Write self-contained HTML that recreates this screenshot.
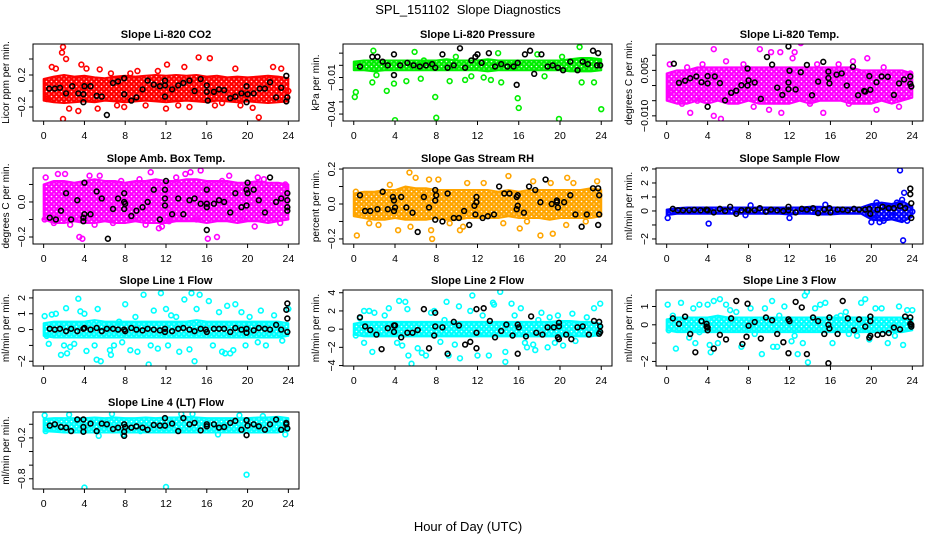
<!DOCTYPE html>
<html><head><meta charset="utf-8">
<style>
html,body{margin:0;padding:0;background:#fff;}
svg{display:block;font-family:"Liberation Sans",Arial,sans-serif;}
</style></head>
<body>
<svg id="chart" width="936" height="540" viewBox="0 0 936 540">
<defs id="defs"></defs>
<text x="468" y="14" text-anchor="middle" font-size="13" xml:space="preserve">SPL_151102&#160; Slope Diagnostics</text>
<text x="468" y="531" text-anchor="middle" font-size="13">Hour of Day (UTC)</text>
</svg>
<script>
const xTicks = [0,4,8,12,16,20,24];
const bandHours = [0,1,2,3,4,5,6,7,8,9,10,11,12,13,14,15,16,17,18,19,20,21,22,23,24];

// Panel 1 CO2
const co2Lo = [-0.12,-0.14,-0.15,-0.14,-0.13,-0.14,-0.12,-0.13,-0.14,-0.13,-0.12,-0.13,-0.14,-0.13,-0.12,-0.13,-0.14,-0.12,-0.13,-0.14,-0.13,-0.14,-0.15,-0.14,-0.13];
const co2Hi = [0.15,0.18,0.2,0.18,0.19,0.17,0.16,0.18,0.19,0.18,0.19,0.2,0.19,0.2,0.19,0.2,0.18,0.19,0.17,0.18,0.17,0.18,0.19,0.18,0.16];
const co2Pts = [[1.9,0.55],[1.8,0.48],[2.2,0.4],[0.8,0.3],[1.2,0.28],[3.7,0.33],[4.2,0.28],[2.5,-0.22],[3.4,-0.25],[1.9,-0.35],[5.3,-0.22],[12.0,-0.22],[12.1,0.33],[15.2,0.42],[16.3,0.41],[21.1,-0.33],[20.5,-0.21],[22.5,0.3],[23.3,0.28],[14.3,-0.2],[13.2,-0.18],[7.9,-0.2],[10.0,-0.18],[17.5,-0.15],[19.3,-0.18],[18.8,0.28],[9.2,0.25],[5.5,0.27],[6.6,0.22],[11.2,0.25],[0.3,-0.1],[24,0.0],[8.5,0.22],[16.8,-0.18],[13.8,0.3],[7.2,-0.18]];
const co2Black = [[0.55,0.03],[1.1,0.03],[1.6,0.04],[2.2,-0.03],[2.8,0.06],[3.4,-0.03],[4.0,0.06],[3.9,-0.04],[3.9,-0.14],[4.6,0.06],[5.2,-0.06],[5.7,-0.07],[6.2,-0.3],[6.8,0.1],[7.3,0.12],[7.9,0.16],[7.9,-0.04],[8.6,-0.12],[9.1,-0.08],[9.7,0.02],[10.2,0.13],[10.8,0.08],[11.4,0.06],[11.9,0.07],[11.9,0.13],[11.9,-0.07],[12.6,0.02],[13.2,0.07],[13.7,0.1],[14.3,0.13],[14.8,0.0],[15.4,0.15],[16,0.07],[16,-0.01],[16.1,-0.12],[16.7,-0.01],[17.2,0.02],[17.7,0.01],[18.3,-0.09],[18.8,-0.07],[19.4,-0.03],[19.9,0.06],[19.9,-0.14],[20.0,-0.04],[20.6,-0.03],[21.2,0.03],[21.7,0.03],[22.2,0.11],[22.8,-0.08],[23.3,0.04],[23.8,0.19],[23.9,-0.08],[23.8,-0.13]];

// Panel 2 Pressure
const presLo = [-0.004,-0.004,-0.005,-0.004,-0.004,-0.004,-0.004,-0.004,-0.004,-0.004,-0.004,-0.004,-0.004,-0.005,-0.004,-0.004,-0.004,-0.004,-0.004,-0.004,-0.004,-0.005,-0.005,-0.005,-0.004];
const presHi = [0.003,0.004,0.004,0.004,0.004,0.004,0.004,0.004,0.004,0.005,0.004,0.004,0.004,0.005,0.004,0.004,0.004,0.004,0.004,0.004,0.004,0.005,0.006,0.006,0.005];
const presPts = [[0.1,-0.026],[0.2,-0.022],[1.9,0.012],[1.8,-0.014],[3.2,-0.021],[3.9,-0.015],[4.0,-0.045],[5.1,-0.013],[5.9,0.011],[6.5,-0.011],[7.9,-0.026],[8.0,-0.043],[9.3,-0.013],[9.9,0.007],[10.8,-0.012],[12.0,-0.049],[13.3,-0.012],[14.0,0.010],[14.3,-0.014],[15.9,-0.027],[16.0,-0.035],[17.8,0.009],[19.9,-0.044],[20.2,0.007],[21.9,0.015],[22.1,-0.014],[23.3,-0.014],[24.0,-0.036],[2.2,-0.008],[11.4,-0.009],[18.5,-0.009],[6.8,0.004],[12.6,-0.01]];
const presBlack = [[0.6,-0.001],[1.8,0.007],[2.3,0.007],[2.8,0.003],[3.3,0.0],[3.9,0.009],[3.9,-0.008],[4.5,0.0],[5.2,0.002],[5.8,0.0],[6.4,-0.001],[7.0,0.0],[7.6,0.001],[7.9,-0.002],[8.6,0.009],[9.1,-0.002],[9.7,0.0],[10.3,0.014],[10.8,-0.002],[11.4,0.004],[11.8,0.007],[12.0,0.009],[12.4,0.002],[13.1,0.01],[13.7,-0.001],[14.3,0.001],[14.9,-0.001],[15.5,-0.001],[15.9,0.002],[15.8,-0.016],[16.6,0.009],[17.1,0.012],[17.5,-0.007],[18.2,0.009],[18.8,-0.001],[19.3,0.0],[19.8,-0.002],[20.3,-0.004],[21.0,0.003],[21.7,-0.004],[22.2,0.003],[22.7,0.001],[23.2,0.012],[23.6,0.0],[23.7,0.010],[23.9,0.0]];

// Panel 3 Li-820 Temp
const tempLo = [-0.005,-0.006,-0.006,-0.005,-0.006,-0.005,-0.006,-0.006,-0.005,-0.006,-0.006,-0.006,-0.006,-0.005,-0.006,-0.005,-0.005,-0.005,-0.006,-0.006,-0.006,-0.005,-0.006,-0.005,-0.004];
const tempHi = [0.004,0.005,0.005,0.006,0.006,0.006,0.006,0.006,0.006,0.006,0.006,0.006,0.006,0.006,0.006,0.006,0.006,0.006,0.006,0.005,0.005,0.005,0.005,0.005,0.004];
const tempPts = [[0.3,-0.002],[0.3,0.007],[2.0,0.006],[2.3,-0.009],[3.5,0.007],[4.6,0.012],[4.6,-0.01],[5.3,-0.011],[6.5,-0.013],[9.1,0.012],[10.2,0.011],[11.1,0.011],[11.2,-0.009],[12.3,0.009],[12.4,-0.016],[12.5,0.011],[13.1,0.014],[14.7,0.007],[15.3,-0.009],[18.2,0.008],[19.6,0.009],[20.5,-0.008],[22.7,-0.007],[23.0,-0.004],[23.8,0.004],[5.8,0.008],[7.5,0.007],[16.8,0.007],[1.5,-0.006],[8.5,-0.007],[14.0,-0.006],[17.8,-0.006],[21.2,0.006],[10.0,-0.008],[3.0,-0.005]];
const tempBlack = [[0.7,0.0072],[1.2,0.0009],[1.8,0.0016],[2.3,0.0024],[2.9,0.003],[3.4,0.0011],[4.0,0.0031],[4.0,0.0007],[4.0,-0.007],[4.7,0.003],[5.2,0.0008],[5.7,-0.0049],[6.3,-0.0024],[6.8,-0.0017],[7.3,0.0001],[7.9,0.0056],[8.0,0.0017],[7.9,0.0],[8.6,0.001],[9.2,-0.0044],[9.8,0.0094],[10.3,0.0069],[10.8,-0.0007],[11.3,-0.0031],[11.9,0.001],[11.9,0.0129],[12.0,0.0049],[11.9,-0.0012],[12.6,-0.0013],[13.1,0.0044],[13.7,0.0068],[14.2,-0.0032],[14.8,0.0013],[15.3,0.0078],[15.8,0.0046],[15.8,0.0025],[15.9,0.0007],[16.6,0.0036],[17.1,0.004],[17.6,0.0],[18.2,0.0062],[18.7,-0.0032],[19.3,-0.0018],[19.8,0.0031],[19.9,-0.0014],[19.4,-0.002],[20.5,0.0011],[21.0,0.003],[21.6,0.0029],[22.2,-0.0031],[22.7,0.0007],[23.2,0.002],[23.8,0.003],[23.8,0.0006],[23.9,-0.0003]];

// Panel 4 Amb Box Temp
const ambLo = [-0.1,-0.12,-0.12,-0.11,-0.12,-0.12,-0.11,-0.12,-0.12,-0.11,-0.12,-0.12,-0.12,-0.11,-0.11,-0.11,-0.12,-0.11,-0.11,-0.12,-0.11,-0.11,-0.12,-0.11,-0.1];
const ambHi = [0.1,0.12,0.12,0.11,0.12,0.13,0.12,0.12,0.11,0.12,0.12,0.13,0.12,0.12,0.13,0.13,0.12,0.12,0.12,0.11,0.11,0.12,0.11,0.11,0.1];
const ambPts = [[0.2,0.14],[1.4,0.16],[2.1,0.16],[3.5,-0.2],[3.8,-0.21],[4.5,0.15],[5.5,0.15],[7.6,0.12],[7.9,-0.26],[10.0,-0.13],[10.5,0.17],[11.3,-0.15],[11.6,-0.14],[13.0,0.14],[13.9,0.16],[14.4,0.17],[15.4,0.18],[16.1,-0.21],[17.0,-0.2],[18.2,0.15],[20.7,-0.14],[21.0,0.14],[21.6,0.13],[23.2,-0.12],[22.6,-0.1],[0.1,-0.1],[1.0,-0.12],[6.8,-0.12],[8.6,-0.09],[12.3,-0.11],[19.5,-0.1],[9.4,0.13],[5.0,-0.13],[17.5,0.12],[2.6,-0.13],[15.0,-0.1],[23.7,0.1]];
const ambBlack = [[0.6,-0.09],[1.2,-0.1],[1.7,-0.05],[2.2,0.05],[2.7,-0.1],[3.3,0.01],[4.0,0.11],[4.0,-0.07],[3.9,-0.09],[3.9,-0.11],[4.6,-0.07],[5.2,0.06],[5.7,0.02],[6.3,-0.21],[6.8,-0.04],[7.3,0.02],[7.9,0.0],[7.9,0.05],[8.0,-0.01],[7.9,-0.04],[8.6,-0.08],[9.1,-0.05],[9.7,-0.03],[10.2,0.0],[10.8,0.07],[11.4,-0.1],[11.9,0.07],[12.0,0.12],[11.9,0.02],[11.9,-0.02],[12.6,-0.07],[13.2,0.02],[13.7,-0.07],[14.3,0.01],[14.8,0.02],[15.4,-0.01],[16.0,0.07],[16.0,-0.01],[16.0,-0.03],[16.0,-0.16],[16.7,-0.01],[17.2,0.01],[17.7,0.0],[18.3,-0.06],[18.8,0.05],[19.4,-0.03],[19.9,-0.02],[20.0,0.11],[20.0,0.05],[19.9,0.07],[20.6,0.07],[21.1,0.01],[21.7,-0.06],[22.2,0.14],[22.8,0.0],[23.3,0.02],[23.9,0.05],[23.9,0.01],[23.9,-0.03],[23.9,-0.05]];

// Panel 5 Gas Stream RH
const rhLo = [-0.07,-0.08,-0.09,-0.09,-0.08,-0.09,-0.09,-0.09,-0.08,-0.09,-0.09,-0.08,-0.08,-0.08,-0.08,-0.07,-0.08,-0.08,-0.08,-0.09,-0.08,-0.08,-0.08,-0.08,-0.07];
const rhHi = [0.06,0.07,0.07,0.08,0.08,0.1,0.09,0.09,0.08,0.08,0.08,0.08,0.08,0.08,0.07,0.08,0.07,0.08,0.08,0.08,0.08,0.08,0.08,0.09,0.08];
const rhPts = [[0.3,-0.18],[1.5,-0.11],[4.3,-0.15],[5.4,0.18],[5.5,-0.13],[7.6,-0.2],[7.5,-0.15],[9.3,-0.11],[10.3,-0.15],[10.6,-0.13],[15.0,0.16],[16.1,-0.14],[18.1,-0.18],[19.3,-0.17],[20.6,-0.12],[20.7,0.15],[21.3,0.12],[6.0,0.15],[7.3,0.14],[3.5,0.11],[12.6,0.12],[22.5,-0.1],[23.6,0.13],[0.2,0.07],[14.5,-0.11],[17.4,0.13],[2.4,-0.12],[11.0,0.12],[8.2,0.14],[16.8,-0.1],[19.1,0.12]];
const rhBlack = [[0.6,0.05],[1.1,-0.04],[1.6,-0.04],[2.3,-0.03],[2.8,0.07],[3.3,-0.03],[3.8,0.04],[3.9,0.02],[4.0,-0.02],[3.9,-0.04],[4.6,0.04],[5.1,-0.02],[5.7,-0.05],[6.2,-0.16],[6.8,0.04],[7.3,-0.02],[7.9,0.08],[8.0,0.05],[7.9,0.02],[7.9,-0.09],[8.6,-0.1],[9.1,0.06],[9.7,-0.08],[10.2,-0.08],[10.7,-0.04],[11.2,-0.12],[11.8,-0.06],[11.9,0.04],[11.9,0.01],[11.7,-0.01],[12.5,-0.08],[13.0,-0.07],[13.6,-0.06],[14.1,0.1],[14.6,0.06],[15.1,0.06],[15.8,0.04],[15.8,-0.03],[15.9,-0.01],[15.9,0.05],[16.5,-0.05],[17.0,0.1],[17.6,0.08],[18.1,0.01],[18.6,0.14],[19.2,0.0],[19.7,0.01],[19.8,-0.02],[19.7,0.02],[20.4,0.01],[21.0,0.05],[21.5,-0.06],[22.1,-0.13],[22.6,-0.06],[23.2,0.09],[23.7,0.09],[23.8,0.05],[23.8,-0.06],[23.7,-0.12]];

// Panel 6 Sample Flow
const sfLo = [-0.3,-0.2,-0.2,-0.2,-0.2,-0.2,-0.2,-0.2,-0.2,-0.2,-0.2,-0.2,-0.25,-0.2,-0.2,-0.25,-0.25,-0.2,-0.2,-0.2,-0.6,-0.7,-0.6,-0.8,-0.4];
const sfHi = [0.1,0.2,0.25,0.25,0.25,0.25,0.25,0.25,0.25,0.25,0.25,0.25,0.25,0.25,0.3,0.3,0.25,0.25,0.25,0.25,0.5,0.6,0.5,0.7,0.3];
const sfPts = [[0.1,-0.5],[4.1,-0.9],[12.0,-0.5],[8.2,0.4],[15.5,0.45],[20.0,-0.8],[20.3,-0.5],[20.5,0.6],[20.8,-0.8],[21.2,-0.7],[22.8,2.9],[23.0,0.8],[23.2,1.3],[23.1,-2.1],[22.0,-0.3],[24.0,-0.05],[22.5,0.6],[23.5,-0.7],[21.7,0.3],[19.8,-0.3],[7.7,-0.3]];
const sfBlack = [[0.6,0.15],[1.1,0.05],[1.6,0.05],[2.2,0.05],[2.7,0.08],[3.3,0.05],[3.9,0.1],[4.0,0.05],[4.6,-0.1],[5.2,0.15],[5.7,0.0],[6.2,0.3],[6.8,-0.2],[7.3,0.05],[7.9,0.08],[8.0,0.05],[8.6,0.05],[9.1,0.2],[9.7,-0.05],[10.2,0.1],[10.8,0.05],[11.4,0.0],[11.9,0.3],[11.9,0.05],[12.6,-0.1],[13.2,0.15],[13.7,0.1],[14.3,0.2],[14.8,-0.15],[15.4,0.1],[15.9,0.2],[16.0,-0.1],[16.7,0.1],[17.2,0.1],[17.7,0.05],[18.3,0.15],[18.8,0.1],[19.4,0.1],[19.9,-0.2],[19.8,0.15],[20.6,0.1],[21.1,0.3],[21.7,0.2],[22.2,0.2],[22.8,0.35],[23.3,0.2],[23.8,1.6],[23.8,1.2],[23.9,0.55],[23.9,-0.5]];

// Panel 7 Line 1 Flow
const l1Lo = [-0.4,-0.5,-0.5,-0.5,-0.5,-0.5,-0.5,-0.5,-0.5,-0.5,-0.5,-0.5,-0.5,-0.5,-0.5,-0.5,-0.5,-0.5,-0.5,-0.5,-0.5,-0.5,-0.5,-0.5,-0.4];
const l1Hi = [0.4,0.5,0.5,0.5,0.5,0.6,0.5,0.5,0.5,0.5,0.5,0.5,0.5,0.5,0.5,0.6,0.5,0.5,0.5,0.5,0.5,0.5,0.5,0.5,0.4];
const l1Pts = [[0.1,0.85],[0.3,-0.4],[0.8,0.95],[1.2,1.0],[1.7,-1.6],[2.0,-1.0],[2.2,1.35],[2.3,-1.5],[2.6,-1.1],[3.4,1.95],[3.6,1.15],[4.2,-1.35],[4.0,1.0],[5.2,-1.9],[5.6,-2.0],[5.3,1.3],[5.0,-1.0],[6.5,-1.3],[6.6,-1.6],[6.9,-1.0],[7.4,0.5],[7.7,-0.8],[8.0,1.6],[8.5,-1.3],[9.2,-1.4],[9.8,2.2],[10.3,-2.2],[10.5,-1.0],[11.2,-1.2],[11.5,2.3],[12.0,1.3],[12.2,-1.0],[12.5,0.9],[13.3,-1.4],[13.8,1.9],[14.3,-1.25],[14.5,2.3],[14.8,-2.0],[15.3,2.2],[15.0,1.3],[16.2,1.8],[16.6,-1.0],[17.2,1.1],[17.5,-1.4],[17.8,-1.5],[18.0,1.5],[18.3,-1.5],[18.6,-1.3],[18.8,1.6],[19.4,1.1],[19.8,-1.0],[20.2,0.8],[21.0,-0.8],[21.3,1.2],[21.8,-1.0],[22.6,0.9],[23.4,-0.7],[24.0,1.3],[0.5,-0.9],[3.0,-0.9],[9.0,0.8],[10.8,1.2],[13.0,0.8]];
const l1Black = [[0.6,0.05],[1.1,0.0],[1.6,0.05],[2.2,-0.1],[2.7,0.05],[3.3,-0.1],[3.9,0.05],[4.0,0.1],[4.6,0.0],[5.2,0.1],[5.7,-0.1],[6.2,0.05],[6.8,0.05],[7.3,0.0],[7.9,0.0],[8.0,-0.1],[8.6,0.1],[9.1,0.0],[9.7,-0.05],[10.2,0.05],[10.8,0.0],[11.4,-0.05],[11.9,0.05],[11.9,-0.15],[12.6,-0.1],[13.2,0.05],[13.7,0.1],[14.3,0.0],[14.8,-0.1],[15.4,0.05],[15.9,0.0],[16.0,-0.15],[16.7,0.05],[17.2,0.05],[17.7,0.05],[18.3,-0.15],[18.8,0.1],[19.4,0.0],[19.9,0.05],[19.9,-0.2],[20.6,-0.05],[21.1,0.1],[21.7,0.05],[22.2,0.0],[22.8,0.3],[23.3,0.0],[23.9,1.65],[23.8,1.25],[23.9,0.7],[23.9,-0.15]];

// Panel 8 Line 2 Flow
const l2Lo = [-0.6,-0.8,-0.8,-0.8,-0.8,-0.8,-0.8,-0.8,-0.8,-0.8,-0.8,-0.8,-0.8,-0.8,-0.8,-0.8,-0.8,-0.8,-0.8,-0.8,-0.8,-0.8,-0.8,-0.8,-0.6];
const l2Hi = [0.6,0.8,0.8,0.8,0.8,0.8,0.8,0.8,0.8,0.8,0.8,0.8,0.8,0.8,0.8,0.8,0.8,0.8,0.8,0.8,0.9,0.9,0.8,0.8,0.6];
const l2Pts = [[0.6,1.2],[1.0,2.0],[1.5,2.0],[1.0,-1.5],[2.0,1.8],[1.8,-2.5],[3.4,2.3],[3.0,1.5],[4.4,3.1],[5.0,3.0],[5.2,2.2],[4.2,-1.5],[4.7,-1.8],[5.6,-3.8],[5.3,-2.9],[6.2,-2.1],[6.6,-2.6],[7.0,-2.9],[7.8,2.0],[8.4,-1.4],[9.0,3.0],[9.2,-2.9],[9.8,-1.7],[10.2,2.5],[10.3,-3.2],[11.5,3.7],[11.3,2.0],[12.0,-2.9],[12.5,1.5],[13.1,-2.9],[13.5,2.9],[13.6,2.7],[14.2,4.1],[14.7,-2.5],[14.7,-3.6],[15.3,2.8],[15.6,1.5],[16.2,2.3],[16.6,-1.5],[16.8,-2.0],[17.4,-1.7],[17.6,-2.3],[18.2,1.8],[18.8,-2.0],[19.0,1.3],[19.5,-1.5],[19.8,1.5],[20.3,-1.8],[21.2,1.7],[21.5,-1.3],[22.0,0.5],[22.6,1.3],[23.3,2.3],[23.9,2.8],[23.6,-0.5],[0.2,-0.7],[7.5,1.8],[8.8,1.0],[17.9,1.0]];
const l2Black = [[0.6,1.3],[1.1,0.3],[1.6,-0.1],[2.2,-0.6],[2.7,-2.2],[3.3,0.1],[3.9,0.4],[3.9,-0.3],[4.0,0.4],[4.6,-0.9],[5.2,-0.4],[5.7,-0.4],[6.2,-0.1],[6.8,2.2],[7.3,-2.1],[7.9,1.8],[7.9,0.3],[7.8,-0.7],[8.6,0.2],[9.1,-2.7],[9.7,0.8],[10.2,0.4],[10.8,-1.7],[11.3,-1.4],[11.9,2.2],[11.9,-0.4],[11.9,-2.1],[12.6,2.3],[13.2,0.9],[13.7,-0.9],[14.3,-0.2],[14.8,0.5],[15.4,-0.7],[15.9,0.5],[16.0,0.2],[15.9,-2.7],[16.7,-0.8],[17.2,1.4],[17.7,-0.4],[18.3,-0.6],[18.8,0.2],[19.4,0.2],[19.9,0.3],[19.9,0.7],[19.9,-1.1],[19.8,-0.9],[20.6,-0.6],[21.1,-1.1],[21.7,0.2],[22.2,0.3],[22.8,-0.6],[23.3,0.9],[23.8,0.8],[23.9,0.3],[23.9,-0.3],[23.8,-0.5]];

// Panel 9 Line 3 Flow
const l3Lo = [-0.3,-0.4,-0.4,-0.4,-0.4,-0.4,-0.4,-0.4,-0.4,-0.4,-0.4,-0.4,-0.4,-0.4,-0.4,-0.4,-0.4,-0.4,-0.4,-0.4,-0.4,-0.4,-0.4,-0.4,-0.3];
const l3Hi = [0.3,0.4,0.4,0.4,0.4,0.5,0.4,0.4,0.4,0.4,0.4,0.4,0.4,0.4,0.4,0.4,0.4,0.4,0.4,0.4,0.4,0.4,0.4,0.4,0.3];
const l3Pts = [[0.1,1.1],[0.2,-0.3],[0.9,-1.3],[1.4,1.2],[2.2,-0.7],[2.6,0.9],[2.8,-1.0],[3.2,1.1],[3.2,-0.4],[4.0,1.1],[4.2,-1.1],[4.3,-1.5],[4.6,1.3],[5.0,-1.0],[5.2,1.4],[5.8,1.1],[6.2,0.8],[6.8,0.7],[7.3,-1.2],[8.2,0.9],[8.6,-0.5],[9.3,-1.6],[9.6,0.9],[10.3,1.3],[10.4,-1.2],[10.8,-1.2],[11.5,1.0],[12.2,-0.9],[12.5,-0.6],[12.8,-1.6],[13.5,1.6],[13.7,1.8],[13.8,-2.05],[13.3,-1.0],[14.5,0.9],[15.0,1.1],[15.5,1.2],[16.2,-1.0],[16.6,0.4],[17.5,0.7],[17.8,-0.5],[18.6,-0.6],[19.0,1.2],[19.4,1.4],[19.8,-0.8],[20.4,0.9],[21.0,0.9],[21.6,-1.0],[22.3,-0.6],[22.7,1.0],[23.1,-1.1],[23.5,0.8],[24.0,0.8],[0.6,0.5],[11.0,0.5],[17.0,0.5]];
const l3Black = [[0.6,0.35],[1.2,0.05],[1.8,0.45],[2.3,-0.5],[2.8,-1.5],[3.4,0.2],[3.9,0.05],[3.9,-0.1],[4.0,-0.3],[4.0,-0.15],[4.6,-1.3],[5.2,-0.55],[5.8,-0.8],[6.3,0.35],[6.8,1.3],[7.4,-1.05],[7.9,1.15],[7.8,-0.65],[8.0,-0.05],[8.6,0.15],[9.2,-0.75],[9.7,0.4],[10.3,0.25],[10.8,-0.5],[11.4,-0.95],[11.9,0.3],[11.9,-1.55],[12.0,0.2],[12.6,1.25],[13.2,0.95],[13.7,-1.6],[14.3,0.4],[14.8,0.2],[15.4,-0.5],[15.9,0.4],[15.8,0.0],[15.9,-0.2],[15.8,-2.1],[16.7,-0.5],[17.2,1.3],[17.7,0.35],[18.3,-0.3],[18.8,0.3],[19.4,-0.1],[19.9,0.45],[19.9,0.2],[19.9,-0.6],[19.8,-0.7],[20.6,-0.55],[21.1,-0.5],[21.7,-0.45],[22.2,-0.15],[22.8,-0.25],[23.3,0.45],[23.8,0.4],[23.9,0.0],[23.9,-0.1],[23.8,0.05]];

// Panel 10 Line 4 (LT) Flow
const l4Lo = [-0.1,-0.11,-0.12,-0.12,-0.12,-0.12,-0.12,-0.12,-0.12,-0.12,-0.12,-0.12,-0.12,-0.12,-0.12,-0.12,-0.12,-0.12,-0.12,-0.12,-0.12,-0.12,-0.12,-0.12,-0.1];
const l4Hi = [0.08,0.09,0.09,0.09,0.09,0.1,0.09,0.1,0.09,0.09,0.1,0.09,0.1,0.1,0.11,0.1,0.09,0.09,0.09,0.09,0.09,0.1,0.1,0.11,0.09];
const l4Pts = [[4.0,-0.93],[12.0,-0.92],[19.9,-0.74],[0.1,0.13],[2.5,0.14],[5.4,-0.17],[7.8,-0.15],[13.5,0.15],[14.6,0.15],[17.1,-0.15],[19.2,0.13],[23.7,-0.15],[6.7,0.15],[9.5,-0.1],[21.5,0.12],[0.2,-0.1]];
const l4Black = [[0.6,-0.02],[1.1,0.0],[1.7,-0.04],[2.2,-0.05],[2.7,-0.1],[3.3,0.07],[3.9,0.07],[3.9,-0.04],[3.9,-0.11],[4.6,0.01],[5.2,-0.1],[5.7,0.01],[6.2,0.0],[6.8,-0.07],[7.3,-0.05],[7.9,0.0],[8.0,-0.04],[7.9,-0.11],[7.9,-0.17],[8.6,-0.05],[9.1,-0.03],[9.7,-0.05],[10.2,-0.08],[10.8,-0.01],[11.4,-0.02],[11.9,0.09],[11.9,-0.02],[12.6,0.01],[13.2,-0.1],[13.7,0.09],[14.3,0.0],[14.8,0.02],[15.4,-0.09],[16.0,0.0],[16.0,-0.03],[16.7,0.0],[17.2,-0.05],[17.7,-0.04],[18.3,0.02],[18.8,0.05],[19.4,-0.08],[19.9,0.06],[19.9,-0.16],[20.0,-0.02],[20.6,0.0],[21.1,-0.03],[21.7,-0.08],[22.2,0.0],[22.8,0.07],[23.3,-0.08],[23.8,0.02],[23.9,-0.06],[23.8,0.0]];

const panels = [
 {name:'co2',title:'Slope Li-820 CO2',ylab:'Licor ppm per min.',color:'#ff0000',x:33,y:44,w:266,h:77,ymax:0.5875,ymin:-0.375,ticks:[0.4,0.2,0,-0.2],labels:{'0.2':'0.2','-0.2':'\u22120.2'},lo:co2Lo,hi:co2Hi,pts:co2Pts,blk:co2Black},
 {name:'pressure',title:'Slope Li-820 Pressure',ylab:'kPa per min.',color:'#00ee00',x:343,y:44,w:269,h:77,ymax:0.0175,ymin:-0.0457,ticks:[0.01,0,-0.01,-0.02,-0.03,-0.04],labels:{'-0.01':'\u22120.01','-0.04':'\u22120.04'},lo:presLo,hi:presHi,pts:presPts,blk:presBlack},
 {name:'li820-temp',title:'Slope Li-820 Temp.',ylab:'degrees C per min.',color:'#ff00ff',x:656,y:44,w:267,h:77,ymax:0.0137,ymin:-0.0117,ticks:[0.01,0.005,0,-0.005,-0.01],labels:{'0.005':'0.005','-0.01':'\u22120.010'},lo:tempLo,hi:tempHi,pts:tempPts,blk:tempBlack},
 {name:'amb-box-temp',title:'Slope Amb. Box Temp.',ylab:'degrees C per min.',color:'#ff00ff',x:33,y:168,w:266,h:76,ymax:0.194,ymin:-0.24,ticks:[0.1,0,-0.1,-0.2],labels:{'0':'0.0','-0.2':'\u22120.2'},lo:ambLo,hi:ambHi,pts:ambPts,blk:ambBlack},
 {name:'gas-stream-rh',title:'Slope Gas Stream RH',ylab:'percent per min.',color:'#ffa500',x:343,y:168,w:269,h:76,ymax:0.206,ymin:-0.229,ticks:[0.2,0.1,0,-0.1,-0.2],labels:{'0.2':'0.2','0':'0.0','-0.2':'\u22120.2'},lo:rhLo,hi:rhHi,pts:rhPts,blk:rhBlack},
 {name:'sample-flow',title:'Slope Sample Flow',ylab:'ml/min per min.',color:'#0000ff',x:656,y:168,w:267,h:76,ymax:3.07,ymin:-2.36,ticks:[3,2,1,0,-1,-2],labels:{'3':'3','2':'2','1':'1','0':'0','-2':'\u22122'},lo:sfLo,hi:sfHi,pts:sfPts,blk:sfBlack},
 {name:'line1-flow',title:'Slope Line 1 Flow',ylab:'ml/min per min.',color:'#00ffff',x:33,y:290,w:266,h:76,ymax:2.5,ymin:-2.3,ticks:[2,1,0,-1,-2],labels:{'2':'2','1':'1','0':'0','-2':'\u22122'},lo:l1Lo,hi:l1Hi,pts:l1Pts,blk:l1Black},
 {name:'line2-flow',title:'Slope Line 2 Flow',ylab:'ml/min per min.',color:'#00ffff',x:343,y:290,w:269,h:76,ymax:4.3,ymin:-4.05,ticks:[4,2,0,-2,-4],labels:{'4':'4','2':'2','0':'0','-2':'\u22122','-4':'\u22124'},lo:l2Lo,hi:l2Hi,pts:l2Pts,blk:l2Black},
 {name:'line3-flow',title:'Slope Line 3 Flow',ylab:'ml/min per min.',color:'#00ffff',x:656,y:290,w:267,h:76,ymax:1.9,ymin:-2.25,ticks:[1,0,-1,-2],labels:{'1':'1','0':'0','-2':'\u22122'},lo:l3Lo,hi:l3Hi,pts:l3Pts,blk:l3Black},
 {name:'line4-flow',title:'Slope Line 4 (LT) Flow',ylab:'ml/min per min.',color:'#00ffff',x:33,y:412,w:266,h:77,ymax:0.18,ymin:-0.95,ticks:[0,-0.2,-0.4,-0.6,-0.8],labels:{'-0.2':'\u22120.2','-0.8':'\u22120.8'},lo:l4Lo,hi:l4Hi,pts:l4Pts,blk:l4Black}
];

const NS='http://www.w3.org/2000/svg';
const svg=document.getElementById('chart');
const defs=document.getElementById('defs');
function mk(tag,attrs,parent){const e=document.createElementNS(NS,tag);for(const k in attrs)e.setAttribute(k,attrs[k]);parent.appendChild(e);return e;}

panels.forEach(p=>{
  const g=mk('g',{},svg);
  
  
  const xs=h=>p.x+p.w*(0.04+h/24*0.92);
  const ys=v=>p.y+(p.ymax-v)/(p.ymax-p.ymin)*p.h;
  const clip='clip-'+p.name;
  const cp=mk('clipPath',{id:clip},g);
  mk('rect',{x:p.x,y:p.y,width:p.w,height:p.h},cp);
  // texture pattern mimicking overlapping open circles
  const pid='pat-'+p.name;
  const pat=mk('pattern',{id:pid,patternUnits:'userSpaceOnUse',width:5,height:5},defs);
  mk('rect',{x:0,y:0,width:5,height:5,fill:p.color},pat);
  mk('circle',{cx:1.5,cy:1.5,r:0.8,fill:'#fff'},pat);
  mk('circle',{cx:4,cy:4,r:0.6,fill:'#fff'},pat);
  const plot=mk('g',{'clip-path':'url(#'+clip+')'},g);
  let pts=bandHours.map((h,i)=>xs(h)+','+ys(p.hi[i]));
  pts=pts.concat(bandHours.slice().reverse().map((h,j)=>{const i=bandHours.length-1-j;return xs(h)+','+ys(p.lo[i]);}));
  const band=mk('polygon',{points:pts.join(' '),fill:'url(#'+pid+')',stroke:p.color,'stroke-width':2,'stroke-linejoin':'round'},plot);
  
  
  p.pts.forEach(d=>{
    const c=mk('circle',{cx:xs(d[0]),cy:ys(d[1]),r:2.4,fill:'none',stroke:p.color,'stroke-width':1.6},plot);
    
    
  });
  p.blk.forEach(d=>{
    const c=mk('circle',{cx:xs(d[0]),cy:ys(d[1]),r:2.4,fill:'none',stroke:'#000','stroke-width':1.6},plot);
    
    
  });
  const box=mk('rect',{x:p.x,y:p.y,width:p.w,height:p.h,fill:'none',stroke:'#000','stroke-width':1},g);
  
  
  const t=mk('text',{x:p.x+p.w/2,y:p.y-6,'text-anchor':'middle','font-size':11,'font-weight':'bold'},g);
  t.textContent=p.title;
  
  
  const xa=mk('g',{},g);
  
  
  mk('line',{x1:xs(0),x2:xs(24),y1:p.y+p.h,y2:p.y+p.h,stroke:'#000'},xa);
  xTicks.forEach(h=>{
    mk('line',{x1:xs(h),x2:xs(h),y1:p.y+p.h,y2:p.y+p.h+4,stroke:'#000'},xa);
    const tl=mk('text',{x:xs(h),y:p.y+p.h+18,'text-anchor':'middle','font-size':10.5},xa);
    tl.textContent=h;
  });
  const ya=mk('g',{},g);
  
  
  p.ticks.forEach(v=>{
    const yy=ys(v);
    mk('line',{x1:p.x-4,x2:p.x,y1:yy,y2:yy,stroke:'#000'},ya);
    const key=String(v);
    if(p.labels[key]!==undefined){
      const tl=mk('text',{x:p.x-8,y:yy,'text-anchor':'middle','font-size':10.5,transform:'rotate(-90 '+(p.x-8)+' '+yy+')'},ya);
      tl.textContent=p.labels[key];
    }
  });
  const yl=mk('text',{x:p.x-24,y:p.y+p.h/2,'text-anchor':'middle','font-size':10,transform:'rotate(-90 '+(p.x-24)+' '+(p.y+p.h/2)+')'},g);
  yl.textContent=p.ylab;
  
  
});
</script>
</body></html>
